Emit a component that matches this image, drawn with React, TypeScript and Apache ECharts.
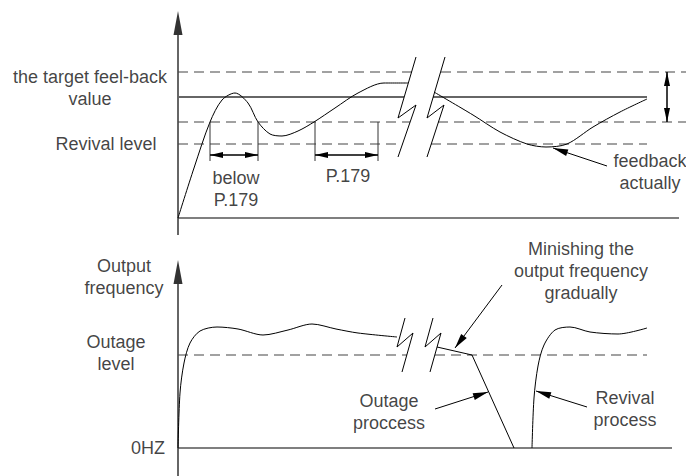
import React, { useEffect, useRef } from "react";
import * as echarts from "echarts";

// ---------- Top panel: feedback value (x = time from origin, y = level above baseline) ----------
const topBaseline = [[0, 0], [501, 0]];
const topAxis = [[0, -17], [0, 207]];
const topTargetSegs = [[[0, 146], [234, 146]], [[263, 146], [508, 146]]];
const topSetpointSegs = [[[0, 121], [226, 121]], [[255, 121], [469, 121]]];
const topUpperSegs = [[[0, 96], [232, 96]], [[260, 96], [508, 96]]];
const topRevivalSegs = [[[0, 74], [224.5, 74]], [[253, 74], [469, 74]]];
const topFeedbackBefore = [
  [0, 0], [16, 50], [32, 96], [44, 118], [57, 125], [70, 115], [80, 96],
  [92, 84], [104, 82], [120, 87], [136, 96], [157, 110], [180, 125],
  [206, 135], [230, 135],
];
const topFeedbackAfter = [
  [256, 126], [295, 103], [322, 86], [349, 74], [368, 71], [389, 74],
  [415, 91], [442, 106], [469, 119],
];
const topBreakMarks = [
  [[238, 161], [220, 100], [238, 113], [220, 61]],
  [[267, 161], [249, 100], [266, 113], [249, 61]],
];
const topBracketTicks = [
  [[32, 96], [32, 57]], [[80, 96], [80, 57]], [[137, 96], [137, 57]], [[200, 96], [200, 57]],
];
const topSpanArrows = [[[32, 63], [80, 63]], [[137, 63], [200, 63]]];
const topBandArrow = [[[489, 146], [489, 96]]];
const topPointers = [[[429, 52], [375, 70]]];
const topLabels = [
  { text: "the target feel-back\nvalue", x: -88, y: 130.5 },
  { text: "Revival level", x: -72, y: 74 },
  { text: "below\nP.179", x: 58, y: 29 },
  { text: "P.179", x: 170, y: 42 },
  { text: "feedback\nactually", x: 472, y: 46.5 },
];

// ---------- Bottom panel: output frequency ----------
const botBaseline = [[0, 0], [494, 0]];
const botAxis = [[0, -28], [0, 188]];
const botOutageSegs = [[[0, 93], [229, 93]], [[257, 93], [469, 93]]];
const botFreqBefore = [
  [0, 0], [2, 55], [6, 85], [12, 105], [22, 117], [39, 121], [60, 119],
  [85, 113], [110, 118], [134, 124], [158, 119], [180, 115], [219, 111],
];
const botFreqDecel = [[259, 101], [294, 93], [336, 0]];
const botFreqRevival = [
  [354, 0], [356, 50], [360, 82], [366, 103], [377, 118], [392, 121],
  [412, 116], [440, 114], [469, 120],
];
const botBreakMarks = [
  [[227, 130], [219, 101], [235, 115], [224, 76]],
  [[255, 130], [247, 101], [263, 115], [252, 76]],
];
const botPointers = [
  [[324, 163], [277, 100]],
  [[257, 39], [310, 56]],
  [[409, 41], [358, 57]],
];
const botLabels = [
  { text: "Output\nfrequency", x: -54, y: 171.5 },
  { text: "Outage\nlevel", x: -62, y: 95.5 },
  { text: "0HZ", x: -30, y: 0 },
  { text: "Minishing the\noutput frequency\ngradually", x: 403, y: 177 },
  { text: "Outage\nproccess", x: 211, y: 36.5 },
  { text: "Revival\nprocess", x: 447, y: 39.5 },
];

const FONT = '"Liberation Sans", Arial, Helvetica, sans-serif';
const DASH = [10, 6];

function line(data: any, g: number, style: any, smooth: boolean | number = false, extra: any = {}) {
  return {
    type: "line",
    xAxisIndex: g,
    yAxisIndex: g,
    data,
    symbol: "none",
    smooth,
    clip: false,
    silent: true,
    lineStyle: style,
    ...extra,
  };
}

function arrows(pairs: number[][][], both: boolean, size: number[], style: any) {
  const head = (coord: number[], show: boolean) => ({
    coord,
    symbol: show ? "triangle" : "none",
    symbolSize: size,
    symbolOffset: [0, size[1] / 2],
  });
  return {
    silent: true,
    label: { show: false },
    lineStyle: style,
    itemStyle: { color: "#000" },
    emphasis: { disabled: true },
    data: pairs.map((p) => [head(p[0], both), head(p[1], true)]),
  };
}

// upward arrowhead whose tip sits on the axis end point
function axisHead(tip: number[], g: number) {
  return {
    type: "scatter",
    xAxisIndex: g,
    yAxisIndex: g,
    clip: false,
    silent: true,
    symbol: "triangle",
    symbolSize: [9, 24],
    symbolOffset: [0, 12],
    itemStyle: { color: "#000" },
    data: [tip],
  };
}

function labels(items: { text: string; x: number; y: number }[], g: number) {
  return {
    type: "scatter",
    xAxisIndex: g,
    yAxisIndex: g,
    symbolSize: 0,
    clip: false,
    silent: true,
    itemStyle: { color: "transparent" },
    data: items.map((l) => ({ name: l.text, value: [l.x, l.y] })),
    label: {
      show: true,
      position: "inside",
      formatter: "{b}",
      color: "#111",
      fontSize: 18,
      lineHeight: 22,
      fontFamily: FONT,
      align: "center",
    },
  };
}

export default function App() {
  const ref = useRef<HTMLDivElement>(null);
  useEffect(() => {
    if (!ref.current) return;
    const chart = echarts.init(ref.current, undefined, { renderer: "svg" });
    const axisStyle = { color: "#333", width: 1.5, type: "solid" };
    const gray = { color: "#555", width: 1.5, type: "solid" };
    const dashed = { color: "#444", width: 1.2, type: DASH };
    const thin = { color: "#000", width: 1, type: "solid" };
    const series: any[] = [];

    // top panel
    series.push(line(topBaseline, 0, gray));
    series.push(line([topAxis[0], [0, topAxis[1][1] - 10]], 0, axisStyle));
    series.push(axisHead(topAxis[1], 0));
    topTargetSegs.forEach((s) => series.push(line(s, 0, dashed)));
    topSetpointSegs.forEach((s) => series.push(line(s, 0, { color: "#666", width: 2, type: "solid" })));
    topUpperSegs.forEach((s) => series.push(line(s, 0, dashed)));
    topRevivalSegs.forEach((s) => series.push(line(s, 0, dashed)));
    series.push(line(topFeedbackBefore, 0, thin, 0.3));
    series.push(line(topFeedbackAfter, 0, thin, 0.3));
    topBreakMarks.forEach((s) => series.push(line(s, 0, thin)));
    topBracketTicks.forEach((s) => series.push(line(s, 0, { color: "#333", width: 1, type: "solid" })));
    series.push(
      line([], 0, thin, false, {
        markLine: arrows(topSpanArrows, true, [6, 13], { color: "#000", width: 1.5, type: "solid" }),
      })
    );
    series.push(
      line([], 0, thin, false, {
        markLine: arrows(topBandArrow, true, [6, 14], { color: "#000", width: 1.5, type: "solid" }),
      })
    );
    series.push(
      line([], 0, thin, false, {
        markLine: arrows(topPointers, false, [7, 15], { color: "#000", width: 1, type: "solid" }),
      })
    );
    series.push(labels(topLabels, 0));

    // bottom panel
    series.push(line(botBaseline, 1, gray));
    series.push(line([botAxis[0], [0, botAxis[1][1] - 10]], 1, axisStyle));
    series.push(axisHead(botAxis[1], 1));
    botOutageSegs.forEach((s) => series.push(line(s, 1, dashed)));
    series.push(line(botFreqBefore, 1, thin, 0.3));
    series.push(line(botFreqDecel, 1, thin));
    series.push(line(botFreqRevival, 1, thin, 0.3));
    botBreakMarks.forEach((s) => series.push(line(s, 1, thin)));
    series.push(
      line([], 1, thin, false, {
        markLine: arrows(botPointers, false, [7, 15], { color: "#000", width: 1, type: "solid" }),
      })
    );
    series.push(labels(botLabels, 1));

    chart.setOption({
      animation: false,
      backgroundColor: "#fff",
      grid: [
        { left: 0, top: 0, width: 686, height: 238 },
        { left: 0, top: 238, width: 686, height: 238 },
      ],
      xAxis: [
        { gridIndex: 0, type: "value", min: -178, max: 508, show: false },
        { gridIndex: 1, type: "value", min: -178, max: 508, show: false },
      ],
      yAxis: [
        { gridIndex: 0, type: "value", min: -20, max: 218, show: false },
        { gridIndex: 1, type: "value", min: -28, max: 210, show: false },
      ],
      series,
    });
    return () => chart.dispose();
  }, []);
  return (
    <div
      ref={ref}
      style={{ position: "fixed", left: 0, top: 0, width: 686, height: 476, background: "#fff" }}
    />
  );
}
